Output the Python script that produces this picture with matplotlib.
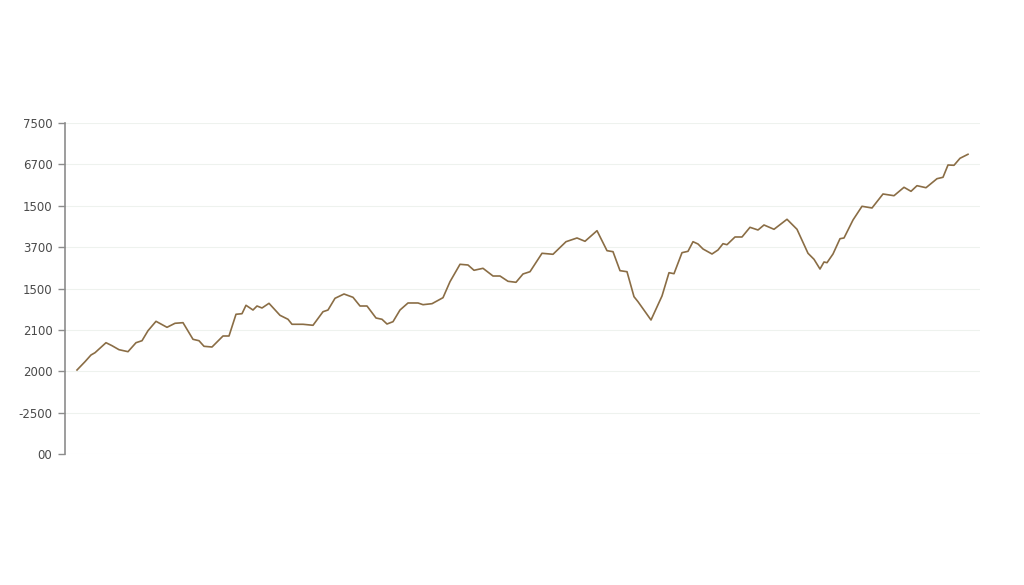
import matplotlib
matplotlib.use("Agg")
import matplotlib.pyplot as plt

# data (x = day index, y = value in tick units of 1000)
days = [0, 8, 14, 18, 29, 35, 42, 51, 59, 65, 71, 79, 90, 98, 106, 116, 122, 127, 135, 146,
        152, 159, 165, 169, 176, 180, 185, 192, 203, 211, 215, 226, 236, 246, 251, 258, 267, 276, 283, 290,
        299, 305, 310, 316, 323, 331, 341, 346, 355, 366, 373, 383, 391, 397, 406, 416, 423, 431, 439, 446,
        453, 465, 476, 489, 500, 508, 520, 530, 536, 543, 550, 557, 561, 574, 585, 592, 597, 605, 611, 616,
        621, 626, 635, 641, 646, 650, 658, 665, 673, 681, 687, 697, 710, 720, 731, 737, 743, 747, 750, 756,
        763, 767, 776, 785, 795, 806, 817, 827, 834, 840, 849, 860, 866, 871, 877, 883, 891]
values = [2030, 2231, 2393, 2448, 2690, 2618, 2521, 2473, 2690, 2738, 2980, 3207, 3062, 3159, 3174, 2772, 2738, 2603, 2586, 2852,
          2852, 3377, 3391, 3594, 3480, 3577, 3529, 3642, 3352, 3256, 3135, 3135, 3111, 3439, 3480, 3763, 3867, 3787, 3577, 3577,
          3287, 3256, 3142, 3198, 3480, 3650, 3650, 3609, 3633, 3778, 4165, 4585, 4568, 4440, 4488, 4302, 4302, 4174, 4150, 4351,
          4406, 4851, 4827, 5131, 5221, 5141, 5397, 4914, 4890, 4431, 4406, 3802, 3681, 3239, 3819, 4382, 4358, 4866, 4899, 5131,
          5076, 4955, 4834, 4931, 5083, 5059, 5245, 5245, 5479, 5414, 5535, 5431, 5673, 5431, 4851, 4706, 4471, 4641, 4624, 4834,
          5204, 5221, 5656, 5987, 5946, 6284, 6243, 6446, 6349, 6485, 6436, 6654, 6688, 6985, 6978, 7147, 7244]

tick_pos = [0, 1000, 2000, 3000, 4000, 5000, 6000, 7000, 8000]
tick_labels = ["00", "-2500", "2000", "2100", "1500", "3700", "1500", "6700", "7500"]

fig = plt.figure(figsize=(10.24, 5.85), dpi=100)
ax = fig.add_axes([65 / 1024, 1 - 454 / 585, (980 - 65) / 1024, (454 - 123) / 585])

ax.plot(days, values, color="#8a6d45", linewidth=1.2)

ax.set_xlim(-12, 903)
ax.set_ylim(0, 8000)
ax.set_yticks(tick_pos)
ax.set_yticklabels(tick_labels, fontsize=8.5, color="#4a4a4a")
ax.set_xticks([])

ax.grid(axis="y", color="#eef2ee", linewidth=0.8)
ax.set_axisbelow(True)

for s in ["top", "right", "bottom"]:
    ax.spines[s].set_visible(False)
ax.spines["left"].set_color("#8c8c8c")
ax.spines["left"].set_linewidth(1.2)
ax.tick_params(axis="y", length=5, width=1, color="#8c8c8c", pad=4)

fig.savefig("out.png", dpi=100, facecolor="white")
